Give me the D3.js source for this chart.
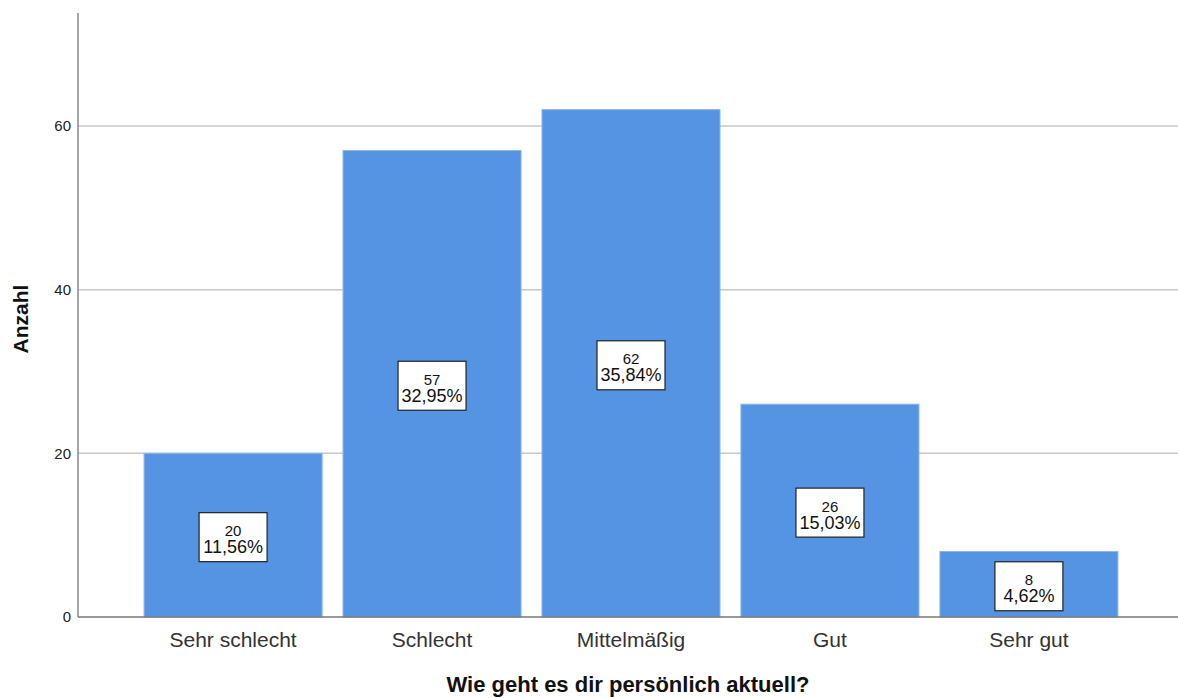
<!DOCTYPE html>
<html>
<head>
<meta charset="utf-8">
<script src="https://cdn.jsdelivr.net/npm/d3@7"></script>
<style>
  body { margin: 0; background: #fff; }
  svg { display: block; font-family: Arial, "Liberation Sans", sans-serif; }
</style>
</head>
<body>
<div id="chart"></div>
<script>
// Data
const categories = ["Sehr schlecht", "Schlecht", "Mittelmäßig", "Gut", "Sehr gut"];
const counts = [20, 57, 62, 26, 8];
const percentLabels = ["11,56%", "32,95%", "35,84%", "15,03%", "4,62%"];
const yTicks = [0, 20, 40, 60];

const width = 1178;
const height = 698;
const margin = {top: 13, right: 0, bottom: 81, left: 78};
const innerWidth = width - margin.left - margin.right;
const innerHeight = height - margin.top - margin.bottom;

const svg = d3.select("#chart")
  .append("svg")
    .attr("width", width)
    .attr("height", height);

const innerChart = svg
  .append("g")
    .attr("transform", `translate(${margin.left}, ${margin.top})`);

// Scales (the band range runs a little past the visible right edge, like the original)
const xScale = d3.scaleBand()
  .domain(categories)
  .range([0, innerWidth + 6])
  .paddingInner(0.105)
  .paddingOuter(0.332);

const yScale = d3.scaleLinear()
  .domain([0, 73.8])
  .range([innerHeight, 0]);

// Gridlines
innerChart
  .append("g")
  .selectAll("line")
  .data(yTicks.filter(d => d > 0))
  .join("line")
    .attr("x1", 0)
    .attr("x2", innerWidth)
    .attr("y1", d => yScale(d))
    .attr("y2", d => yScale(d))
    .attr("stroke", "#c8c8c8")
    .attr("stroke-width", 1.5);

// Bars
const data = categories.map((c, i) => ({cat: c, count: counts[i], pct: percentLabels[i]}));
innerChart
  .append("g")
  .selectAll("rect")
  .data(data)
  .join("rect")
    .attr("x", d => xScale(d.cat))
    .attr("y", d => yScale(d.count))
    .attr("width", xScale.bandwidth())
    .attr("height", d => yScale(0) - yScale(d.count))
    .attr("fill", "#5594e3")
    .attr("stroke", "#8db8ee")
    .attr("stroke-width", 1);

// Axes
const leftAxis = d3.axisLeft(yScale)
  .tickValues(yTicks)
  .tickSize(0)
  .tickPadding(7);
const yAxisG = innerChart.append("g").call(leftAxis);
yAxisG.select(".domain").remove();
yAxisG.selectAll("text")
  .attr("font-size", 15)
  .attr("font-family", "Arial, 'Liberation Sans', sans-serif")
  .attr("fill", "#222");

innerChart.append("line")
  .attr("x1", 0).attr("x2", 0)
  .attr("y1", 0).attr("y2", innerHeight)
  .attr("stroke", "#888")
  .attr("stroke-width", 1.5);

const bottomAxis = d3.axisBottom(xScale)
  .tickSize(0)
  .tickPadding(15);
const xAxisG = innerChart.append("g")
  .attr("transform", `translate(0, ${innerHeight})`)
  .call(bottomAxis);
xAxisG.select(".domain").remove();
xAxisG.selectAll("text")
  .attr("font-size", 21)
  .attr("font-family", "Arial, 'Liberation Sans', sans-serif")
  .attr("fill", "#333");

innerChart.append("line")
  .attr("x1", 0).attr("x2", innerWidth)
  .attr("y1", innerHeight).attr("y2", innerHeight)
  .attr("stroke", "#777")
  .attr("stroke-width", 1.5);

// Value labels
const labelW = 68, labelH = 49;
const labels = innerChart
  .append("g")
  .selectAll("g")
  .data(data)
  .join("g")
    .attr("transform", d => `translate(${xScale(d.cat) + xScale.bandwidth() / 2}, ${yScale(d.count / 2) + 2})`);
labels.append("rect")
  .attr("x", -labelW / 2)
  .attr("y", -labelH / 2)
  .attr("width", labelW)
  .attr("height", labelH)
  .attr("fill", "#fff")
  .attr("stroke", "#222")
  .attr("stroke-width", 1.2);
labels.append("text")
  .text(d => d.count)
  .attr("text-anchor", "middle")
  .attr("y", -1)
  .attr("font-size", 15)
  .attr("fill", "#111");
labels.append("text")
  .text(d => d.pct)
  .attr("text-anchor", "middle")
  .attr("y", 16)
  .attr("font-size", 18)
  .attr("fill", "#111");

// Axis titles
svg.append("text")
  .text("Wie geht es dir persönlich aktuell?")
  .attr("text-anchor", "middle")
  .attr("x", margin.left + innerWidth / 2)
  .attr("y", 692)
  .attr("font-size", 22)
  .attr("font-weight", "bold")
  .attr("fill", "#111");

svg.append("text")
  .text("Anzahl")
  .attr("text-anchor", "middle")
  .attr("transform", `translate(28, 319) rotate(-90)`)
  .attr("font-size", 21)
  .attr("font-weight", "bold")
  .attr("fill", "#111");
</script>
</body>
</html>
